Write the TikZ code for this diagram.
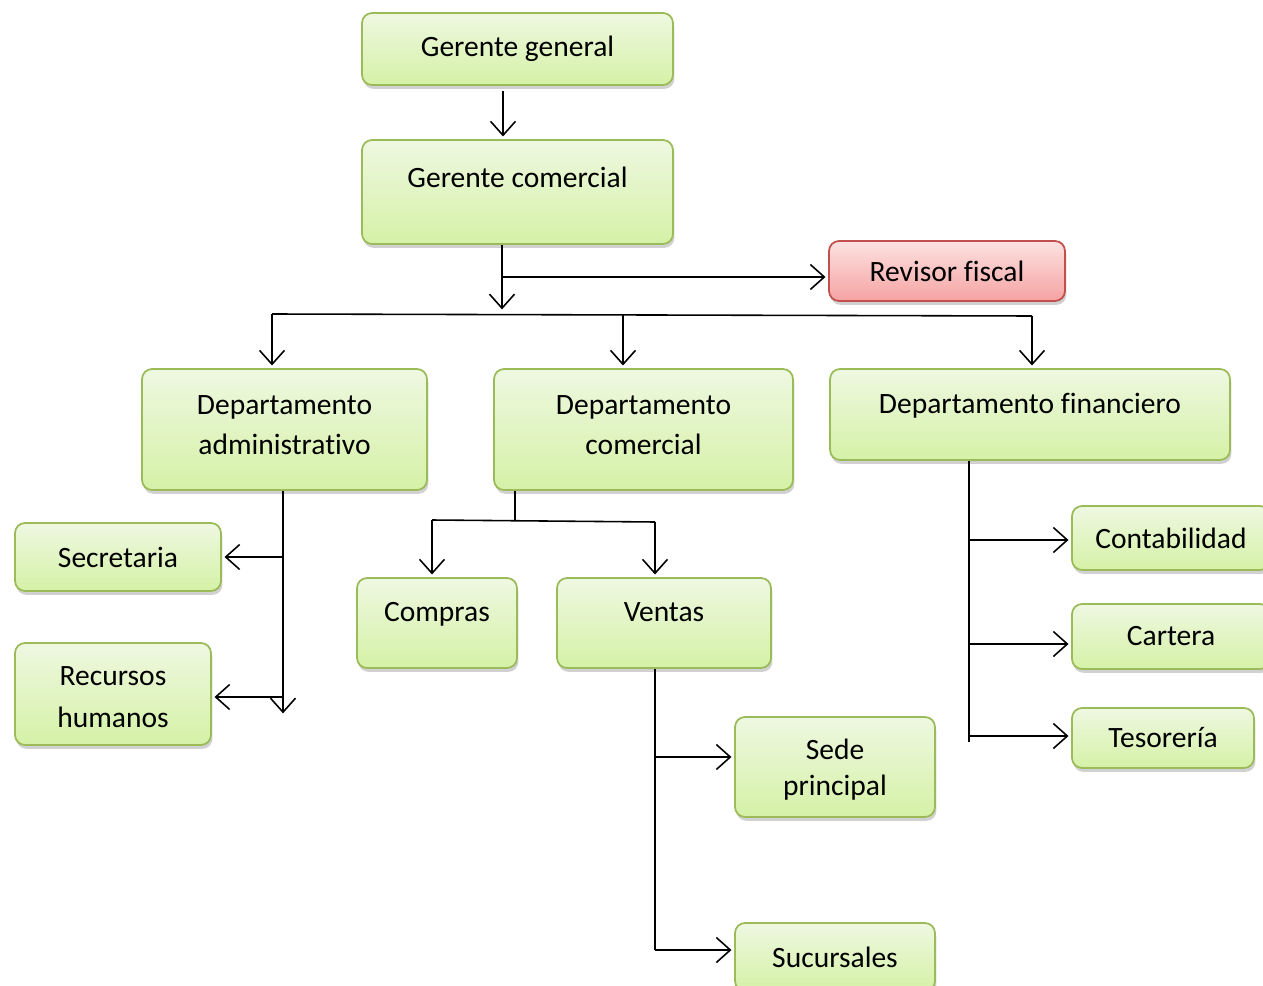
\documentclass[tikz,border=0pt]{standalone}
\usepackage{fontspec}
\setmainfont{Carlito}[Ligatures=NoCommon]
\usetikzlibrary{arrows.meta,shadows}
\definecolor{boxTop}{HTML}{EEF8E1}
\definecolor{boxBot}{HTML}{D5F1A6}
\definecolor{boxLine}{HTML}{9BBB59}
\definecolor{redTop}{HTML}{FCE2E1}
\definecolor{redBot}{HTML}{F5A3A2}
\definecolor{redLine}{HTML}{C0504D}
\begin{document}
\begin{tikzpicture}[x=0.02cm,y=-0.02cm,
	every node/.style={font=\fontsize{16.8}{23}\selectfont},
	box/.style={draw=boxLine,line width=1pt,rounded corners=0.2cm,top color=boxTop,bottom color=boxBot,
		align=center,inner sep=0pt,drop shadow={shadow xshift=0.8pt,shadow yshift=-2.2pt,opacity=0.3,fill=black!60}},
	redbox/.style={box,draw=redLine,top color=redTop,bottom color=redBot},
	lifted/.style={text height=0.5cm,text depth=#1},
	arr/.style={-{Straight Barb[length=2.8mm,width=5mm]},line width=0.9pt,shorten >=1.5pt},
	link/.style={line width=0.9pt}
	]
	\useasboundingbox (0,0) rectangle (1263,986);
	\node[box,minimum width=6.22cm,minimum height=1.44cm] (gg) at (517.5,49) {Gerente general};
	\node[box,lifted=0.68cm,minimum width=6.22cm,minimum height=2.08cm] (gc) at (517.5,192) {Gerente comercial};
	\node[redbox,minimum width=4.72cm,minimum height=1.2cm] (rf) at (947,271) {Revisor fiscal};
	\node[box,text depth=0.18cm,minimum width=5.7cm,minimum height=2.42cm] (da) at (284.5,429.5) {Departamento\\administrativo};
	\node[box,text depth=0.18cm,minimum width=5.98cm,minimum height=2.42cm] (dc) at (643.5,429.5) {Departamento\\comercial};
	\node[box,lifted=0.56cm,minimum width=8cm,minimum height=1.82cm] (df) at (1030,414.5) {Departamento financiero};
	\node[box,minimum width=4.12cm,minimum height=1.36cm] (sec) at (118,557) {Secretaria};
	\node[box,text height=1.36cm,minimum width=3.92cm,minimum height=2.04cm] (rh) at (113,694) {Recursos\\[1pt]humanos};
	\node[box,lifted=0.56cm,minimum width=3.2cm,minimum height=1.8cm] (co) at (437,623) {Compras};
	\node[box,lifted=0.56cm,minimum width=4.28cm,minimum height=1.8cm] (ve) at (664,623) {Ventas};
	\node[box,text depth=-0.16cm,minimum width=4cm,minimum height=2cm] (sp) at (835,767) {Sede\\[-2.5pt]principal};
	\node[box,minimum width=4cm,minimum height=1.36cm] (su) at (835,957) {Sucursales};
	\node[box,minimum width=3.96cm,minimum height=1.28cm] (ct) at (1171,538) {Contabilidad};
	\node[box,minimum width=3.96cm,minimum height=1.3cm] (ca) at (1171,636.5) {Cartera};
	\node[box,minimum width=3.64cm,minimum height=1.2cm] (te) at (1163,738) {Tesorería};
	\coordinate (hub) at (502,312);
	\coordinate (rfJ) at (502,277);
	\coordinate (busL) at (272,314);
	\coordinate (busM) at (623,315);
	\coordinate (busR) at (1032,316);
	\coordinate (daE) at (283,716);
	\coordinate (dcJ) at (515,521);
	\coordinate (dcL) at (432,520);
	\coordinate (dcR) at (655,522);
	\coordinate (spJ) at (655,757);
	\coordinate (veE) at (655,950);
	\coordinate (dfE) at (969,742);
	\draw[arr] ([xshift=-0.29cm,yshift=-0.1cm]gg.south) -- ([xshift=-0.29cm]gc.north);
	\draw[arr] (gc.south -| hub) -- (hub);
	\draw[arr] (rfJ) -- (rf.west |- rfJ);
	\draw[link] (busL) -- (busR);
	\foreach \c/\n in {busL/da,busM/dc,busR/df}{
		\draw[arr] (\c) -- (\n.north -| \c);
	}
	\draw[arr] (da.south -| daE) -- (daE);
	\draw[arr] (daE |- sec.east) -- (sec.east);
	\draw[arr] ([yshift=-0.06cm]daE |- rh.east) -- ([yshift=-0.06cm]rh.east);
	\draw[link] (dc.south -| dcJ) -- (dcJ);
	\draw[link] (dcL) -- (dcR);
	\draw[arr] (dcL) -- (co.north -| dcL);
	\draw[arr] (dcR) -- (ve.north -| dcR);
	\draw[link] (ve.south -| veE) -- (veE);
	\draw[arr] (spJ) -- (sp.west |- spJ);
	\draw[arr] (veE) -- (su.west |- veE);
	\draw[link] (df.south -| dfE) -- (dfE);
	\foreach \n/\yy in {ct/540,ca/644,te/736}{
		\coordinate (j\n) at (969,\yy);
		\draw[arr] (j\n) -- (\n.west |- j\n);
	}
\end{tikzpicture}
\end{document}
